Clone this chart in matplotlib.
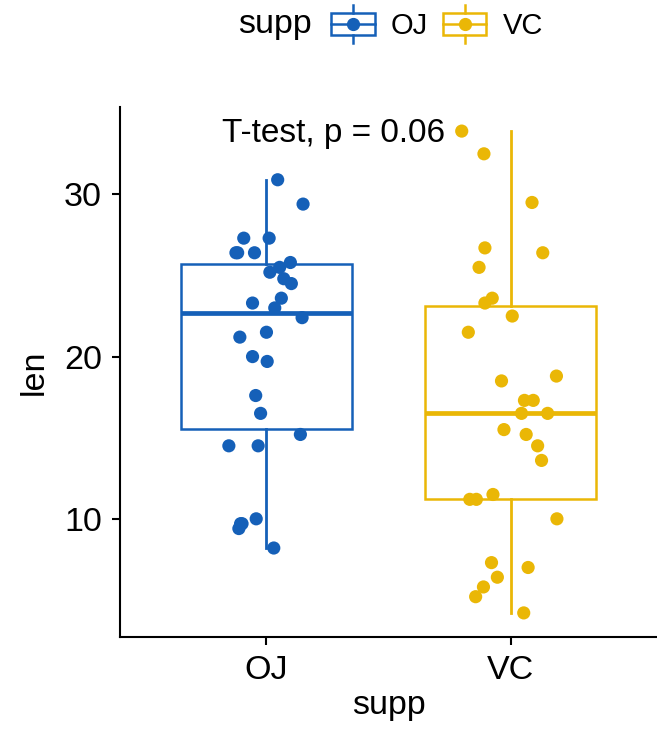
import matplotlib
matplotlib.use("Agg")
import matplotlib.pyplot as plt
import numpy as np
from matplotlib.legend_handler import HandlerBase
from matplotlib.lines import Line2D
from matplotlib.patches import Rectangle

plt.rcParams["font.family"] = ["Liberation Sans", "DejaVu Sans"]

groups = ["OJ", "VC"]
colors = ["#1560B8", "#EAB706"]

oj_len = [30.9, 29.4, 27.3, 27.3, 26.4, 26.4, 26.4, 25.8, 25.5, 25.2,
          24.8, 24.5, 23.6, 23.3, 23.0, 22.4, 21.5, 21.2, 20.0, 19.7,
          17.6, 16.5, 15.2, 14.5, 14.5, 10.0, 9.7, 9.7, 9.4, 8.2]
vc_len = [33.9, 32.5, 29.5, 26.7, 26.4, 25.5, 23.6, 23.3, 22.5, 21.5,
          18.8, 18.5, 17.3, 17.3, 16.5, 16.5, 15.5, 15.2, 14.5, 13.6,
          11.5, 11.2, 11.2, 10.0, 7.3, 7.0, 6.4, 5.8, 5.2, 4.2]

# horizontal jitter of each point (category units)
oj_jitter = [0.046, 0.150, -0.093, 0.011, -0.125, -0.049, -0.118, 0.098, 0.054, 0.014,
             0.071, 0.102, 0.061, -0.057, 0.034, 0.146, 0.000, -0.109, -0.057, 0.003,
             -0.044, -0.024, 0.139, -0.154, -0.034, -0.042, -0.106, -0.100, -0.113, 0.030]
vc_jitter = [-0.200, -0.109, 0.088, -0.105, 0.132, -0.129, -0.075, -0.105, 0.007, -0.173,
             0.188, -0.037, 0.057, 0.093, 0.045, 0.152, -0.027, 0.064, 0.111, 0.127,
             -0.072, -0.167, -0.140, 0.190, -0.078, 0.072, -0.054, -0.111, -0.143, 0.054]

y_ticks = [10, 20, 30]
test_label = "T-test, p = 0.06"

values = [oj_len, vc_len]
jitters = [oj_jitter, vc_jitter]


class BoxKeyHandler(HandlerBase):
    """Legend key that looks like a tiny boxplot with a dot."""

    def create_artists(self, legend, orig_handle, xdescent, ydescent,
                       width, height, fontsize, trans):
        c = orig_handle.get_color()
        x0, y0 = -xdescent, -ydescent
        xc, yc = x0 + width / 2, y0 + height / 2
        bh = height * 0.6
        box = Rectangle((x0, yc - bh / 2), width, bh, facecolor="white",
                        edgecolor=c, linewidth=1.8, transform=trans)
        mid = Line2D([x0, x0 + width], [yc, yc], color=c, lw=1.8, transform=trans)
        w1 = Line2D([xc, xc], [y0, yc - bh / 2], color=c, lw=1.8, transform=trans)
        w2 = Line2D([xc, xc], [yc + bh / 2, y0 + height], color=c, lw=1.8, transform=trans)
        dot = Line2D([xc], [yc], marker="o", markersize=8.5, color=c,
                     linestyle="none", transform=trans)
        return [box, mid, w1, w2, dot]


fig = plt.figure(figsize=(6.57, 7.36), dpi=100)
ax = fig.add_axes([120 / 657, 1 - 637 / 736, 1 - 120 / 657, (637 - 107) / 736])

positions = np.arange(1, len(groups) + 1)
for pos, vals, col in zip(positions, values, colors):
    ax.boxplot(vals, positions=[pos], widths=0.7, patch_artist=True,
               showfliers=False, showcaps=False,
               boxprops=dict(facecolor="white", edgecolor=col, linewidth=1.8),
               whiskerprops=dict(color=col, linewidth=2.0),
               medianprops=dict(color=col, linewidth=3.4),
               zorder=2)

for pos, vals, jit, col in zip(positions, values, jitters, colors):
    ax.scatter(pos + np.array(jit), vals, s=90, color=col, edgecolors="none", zorder=3)

ax.text(0.816, 33.2, test_label, fontsize=24, ha="left", va="baseline", color="black")

lo = min(min(oj_len), min(vc_len))
hi = max(max(oj_len), max(vc_len))
pad = (hi - lo) * 0.05
ax.set_ylim(lo - pad, hi + pad)
ax.set_xlim(0.4, len(groups) + 0.6)
ax.set_xticks(positions)
ax.set_xticklabels(groups)
ax.set_yticks(y_ticks)

for side in ["top", "right"]:
    ax.spines[side].set_visible(False)
for side in ["left", "bottom"]:
    ax.spines[side].set_linewidth(1.5)
    ax.spines[side].set_color("black")

ax.tick_params(axis="both", length=6, width=1.5, pad=7, labelsize=24.5,
               colors="black")
ax.set_ylabel("len", fontsize=24.5, labelpad=10)
ax.set_xlabel("supp", fontsize=24.5, labelpad=3)

# legend across the top
fig.text(238 / 657, 1 - 33 / 736, "supp", fontsize=24.5, ha="left", va="baseline")
handles = [Line2D([], [], color=c) for c in colors]
fig.legend(handles, groups, handler_map={Line2D: BoxKeyHandler()},
           loc="center left", bbox_to_anchor=(331 / 657, 1 - 24 / 736),
           ncol=2, frameon=False, fontsize=21, borderpad=0, borderaxespad=0,
           handlelength=1.5, handleheight=1.6, handletextpad=0.55,
           columnspacing=0.5)

fig.savefig("out.png", dpi=100)
